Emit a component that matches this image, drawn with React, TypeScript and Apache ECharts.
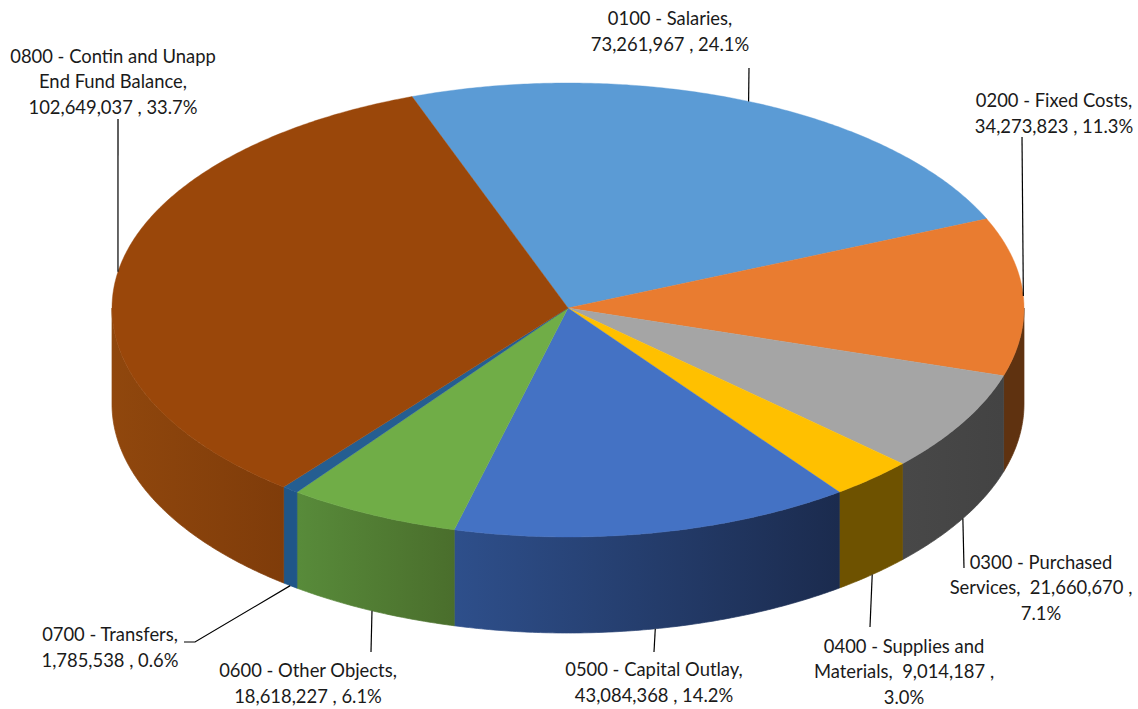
import React, { useEffect, useRef } from "react";
import * as echarts from "echarts";

// Budget by object code, in the order the slices run clockwise.
const categories = [
  "0100 - Salaries",
  "0200 - Fixed Costs",
  "0300 - Purchased Services",
  "0400 - Supplies and Materials",
  "0500 - Capital Outlay",
  "0600 - Other Objects",
  "0700 - Transfers",
  "0800 - Contin and Unapp End Fund Balance",
];
const amounts = [73261967, 34273823, 21660670, 9014187, 43084368, 18618227, 1785538, 102649037];

// Wrapped label text; {v} and {p} are filled in from the amounts.
const labelLines = [
  ["0100 - Salaries,", "{v} , {p}"],
  ["0200 - Fixed Costs,", "{v} , {p}"],
  ["0300 - Purchased", "Services,  {v} ,", "{p}"],
  ["0400 - Supplies and", "Materials,  {v} ,", "{p}"],
  ["0500 - Capital Outlay,", "{v} , {p}"],
  ["0600 - Other Objects,", "{v} , {p}"],
  ["0700 - Transfers,", "{v} , {p}"],
  ["0800 - Contin and Unapp", "End Fund Balance,", "{v} , {p}"],
];

const topColors = ["#5b9bd5", "#e97c30", "#a5a5a5", "#ffc000", "#4472c4", "#70ad47", "#255e91", "#9a470a"];
const wallStops = [
  ["#34597b", "#34597b"],
  ["#5f3210", "#5f3210"],
  ["#484848", "#434343"],
  ["#6e5200", "#6e5200"],
  ["#2e4f8b", "#1b2b4e"],
  ["#588b3a", "#4a6e2c"],
  ["#1f5688", "#1f5688"],
  ["#90470d", "#7f3c0a"],
];

// Disc geometry on the page; the near half of the disc reads slightly taller.
const CX = 568;
const CY = 308;
const RX = 456;
const RY_BACK = 225;
const RY_FRONT = 229;
const DEPTH = 96;
const START_DEG = -20;

// Label centres, and where each leader runs after leaving the disc.
const labelCenters: number[][] = [
  [670, 31],
  [1054, 113],
  [1041, 587],
  [904, 671],
  [654, 682],
  [308, 683],
  [110, 647],
  [113, 81],
];
const leaderEnds: number[][][] = [
  [[749, 68]],
  [[1022, 137]],
  [[964, 568]],
  [[870, 627]],
  [[654, 652]],
  [[371, 652]],
  [[195, 642], [184, 642]],
  [[118, 119]],
];
// Slices whose leader leaves from the lower rim rather than the top edge.
const leavesLowerRim = [false, false, true, true, true, true, true, false];

const total = amounts.reduce((a, b) => a + b, 0);
const sweeps = amounts.map((v) => (v / total) * 360);
const starts = sweeps.map((_, i) => START_DEG + sweeps.slice(0, i).reduce((a, b) => a + b, 0));

const rim = (deg: number, drop = 0): number[] => {
  const r = (deg * Math.PI) / 180;
  const c = Math.cos(r);
  return [CX + RX * Math.sin(r), CY - (c > 0 ? RY_BACK : RY_FRONT) * c + drop];
};

const arcPoints = (from: number, to: number, drop = 0): number[][] => {
  const steps = Math.max(2, Math.ceil((to - from) * 2));
  const pts: number[][] = [];
  for (let k = 0; k <= steps; k++) pts.push(rim(from + ((to - from) * k) / steps, drop));
  return pts;
};

const renderWall = (params: any) => {
  const i = params.dataIndex;
  const a = Math.max(starts[i], 90);
  const b = Math.min(starts[i] + sweeps[i], 270);
  if (b <= a) return { type: "group", children: [] };
  const upper = arcPoints(a, b);
  const lower = arcPoints(a, b, DEPTH).reverse();
  const paint = () =>
    new echarts.graphic.LinearGradient(0, 0, 1, 0, [
      { offset: 0, color: wallStops[i][0] },
      { offset: 1, color: wallStops[i][1] },
    ]);
  return {
    type: "polygon",
    shape: { points: upper.concat(lower) },
    style: { fill: paint(), stroke: paint(), lineWidth: 0.7 },
  };
};

const renderTop = (params: any, api: any) => {
  const i = params.dataIndex;
  const sweep = (api.value(0) / total) * 360;
  const points = [[CX, CY]].concat(arcPoints(starts[i], starts[i] + sweep));
  return {
    type: "polygon",
    shape: { points },
    style: { fill: topColors[i], stroke: topColors[i], lineWidth: 0.4 },
  };
};

const renderLabel = (params: any, api: any) => {
  const i = params.dataIndex;
  const value = api.value(0);
  const mid = starts[i] + sweeps[i] / 2;
  const anchor = rim(mid, leavesLowerRim[i] ? DEPTH : 0);
  const pct = ((value / total) * 100).toFixed(1) + "%";
  const text = labelLines[i]
    .map((l) => l.replace("{v}", value.toLocaleString("en-US")).replace("{p}", pct))
    .join("\n");
  return {
    type: "group",
    children: [
      {
        type: "polyline",
        shape: { points: [anchor].concat(leaderEnds[i]) },
        style: { fill: "none", stroke: "#000", lineWidth: 1.2 },
      },
      {
        type: "text",
        x: labelCenters[i][0],
        y: labelCenters[i][1],
        style: {
          text,
          align: "center",
          verticalAlign: "middle",
          fontFamily: "Lato",
          fontSize: 18.4,
          lineHeight: 25.5,
          fill: "#1a1a1a",
        },
      },
    ],
  };
};

export default function App() {
  const ref = useRef<HTMLDivElement>(null);
  useEffect(() => {
    document.body.style.margin = "0";
    const chart = echarts.init(ref.current!, null, { renderer: "svg" });
    const data = amounts.map((v, i) => ({ name: categories[i], value: [v] }));
    const layer = (renderItem: any, z: number) => ({
      type: "custom",
      coordinateSystem: "none",
      silent: true,
      z,
      data,
      renderItem,
    });
    chart.setOption({
      animation: false,
      backgroundColor: "#ffffff",
      series: [layer(renderWall, 1), layer(renderTop, 2), layer(renderLabel, 3)],
    });
    return () => chart.dispose();
  }, []);
  return <div ref={ref} style={{ width: 1138, height: 709 }} />;
}
